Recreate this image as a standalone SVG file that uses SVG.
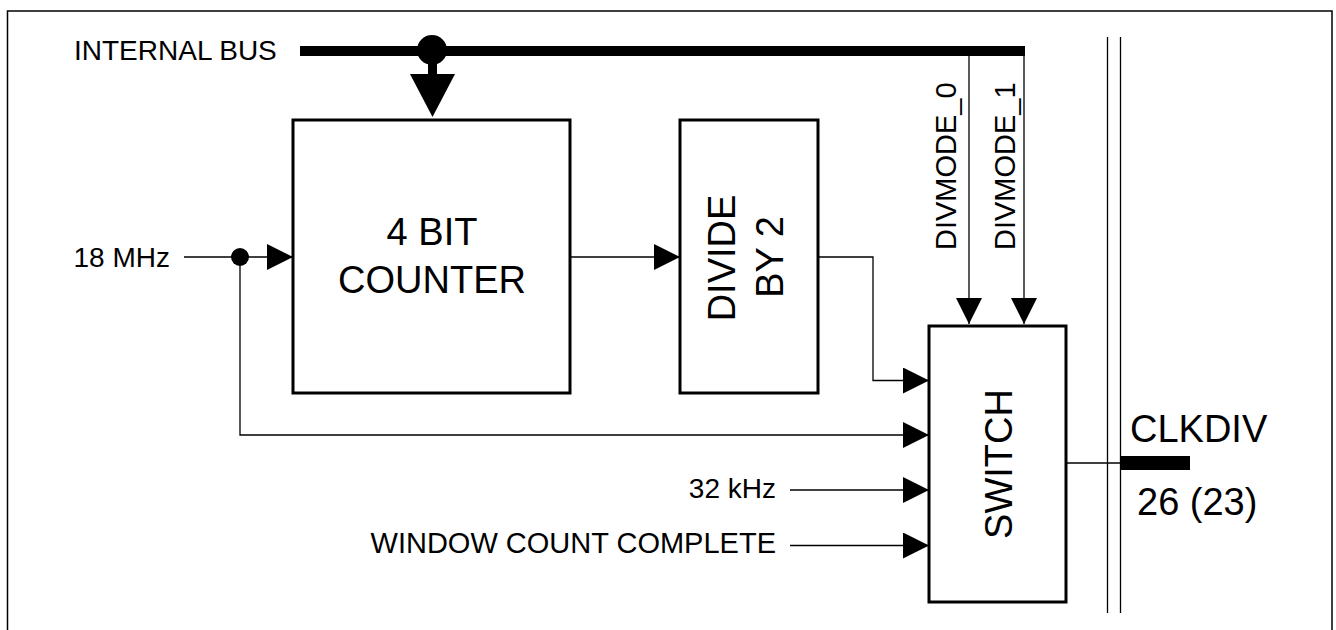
<svg xmlns="http://www.w3.org/2000/svg" width="1336" height="630" viewBox="0 0 1336 630">
<style>
.box{fill:#fff;stroke:#000;stroke-width:3}
.ln{fill:none;stroke:#000;stroke-width:1.3}
.sm{font-family:"Liberation Sans",Arial,sans-serif;font-size:28px;fill:#000}
.sm2{font-family:"Liberation Sans",Arial,sans-serif;font-size:29px;fill:#000}
.bg{font-family:"Liberation Sans",Arial,sans-serif;font-size:38px;fill:#000}
</style>
<defs>
<marker id="ah" markerWidth="26" markerHeight="26" viewBox="0 0 26 26" refX="26" refY="13" orient="auto" markerUnits="userSpaceOnUse">
<path d="M0,0 L26,13 L0,26 Z" fill="#000"/>
</marker>
</defs>
<rect width="1336" height="630" fill="#fff"/>
<path d="M7.5,630 V11 H1332 V630" fill="none" stroke="#000" stroke-width="1.5"/>

<g id="bus">
<text class="sm" x="74" y="60">INTERNAL BUS</text>
<rect x="300" y="46" width="725" height="10" fill="#000"/>
<circle cx="432" cy="50" r="15" fill="#000"/>
<rect x="428" y="60" width="9" height="16" fill="#000"/>
<polygon points="410,74 455,74 432.5,117" fill="#000"/>
</g>

<g id="counter">
<rect class="box" x="293" y="120" width="277" height="273"/>
<text class="bg" x="432" y="245" text-anchor="middle">4 BIT</text>
<text class="bg" x="432" y="293" text-anchor="middle">COUNTER</text>
</g>

<g id="divide">
<rect class="box" x="680" y="120" width="138" height="273"/>
<text class="bg" transform="translate(735,258) rotate(-90)" text-anchor="middle">DIVIDE</text>
<text class="bg" transform="translate(783,257) rotate(-90)" text-anchor="middle">BY 2</text>
</g>

<g id="switch">
<rect class="box" x="929" y="326" width="137" height="276"/>
<text class="bg" transform="translate(1011.5,464) rotate(-90)" text-anchor="middle">SWITCH</text>
</g>

<g id="labels">
<text class="sm" x="170" y="267" text-anchor="end">18 MHz</text>
<text class="sm" x="776" y="498" text-anchor="end">32 kHz</text>
<text class="sm2" x="776" y="553" text-anchor="end">WINDOW COUNT COMPLETE</text>
<text class="sm2" transform="translate(956,250) rotate(-90)">DIVMODE_0</text>
<text class="sm2" transform="translate(1015,250) rotate(-90)">DIVMODE_1</text>
</g>

<g id="clkdiv">
<line x1="1107.5" y1="37" x2="1107.5" y2="613" class="ln"/>
<line x1="1120.5" y1="37" x2="1120.5" y2="613" class="ln"/>
<rect x="1121" y="456" width="69" height="14" fill="#000"/>
<text class="bg" x="1130" y="442">CLKDIV</text>
<text class="bg" x="1137" y="515">26 (23)</text>
</g>

<g id="connectors">
<line class="ln" x1="184" y1="257" x2="293" y2="257" marker-end="url(#ah)"/>
<circle cx="240" cy="257" r="9" fill="#000"/>
<polyline class="ln" points="240,257 240,435 929,435" marker-end="url(#ah)"/>
<line class="ln" x1="570" y1="257" x2="680" y2="257" marker-end="url(#ah)"/>
<polyline class="ln" points="818,257 873,257 873,380.5 929,380.5" marker-end="url(#ah)"/>
<line class="ln" x1="790" y1="490" x2="929" y2="490" marker-end="url(#ah)"/>
<line class="ln" x1="790" y1="545.5" x2="929" y2="545.5" marker-end="url(#ah)"/>
<line class="ln" x1="969" y1="56" x2="969" y2="324" marker-end="url(#ah)"/>
<line class="ln" x1="1024" y1="56" x2="1024" y2="324" marker-end="url(#ah)"/>
<line class="ln" x1="1066" y1="463" x2="1121" y2="463"/>
</g>
</svg>
